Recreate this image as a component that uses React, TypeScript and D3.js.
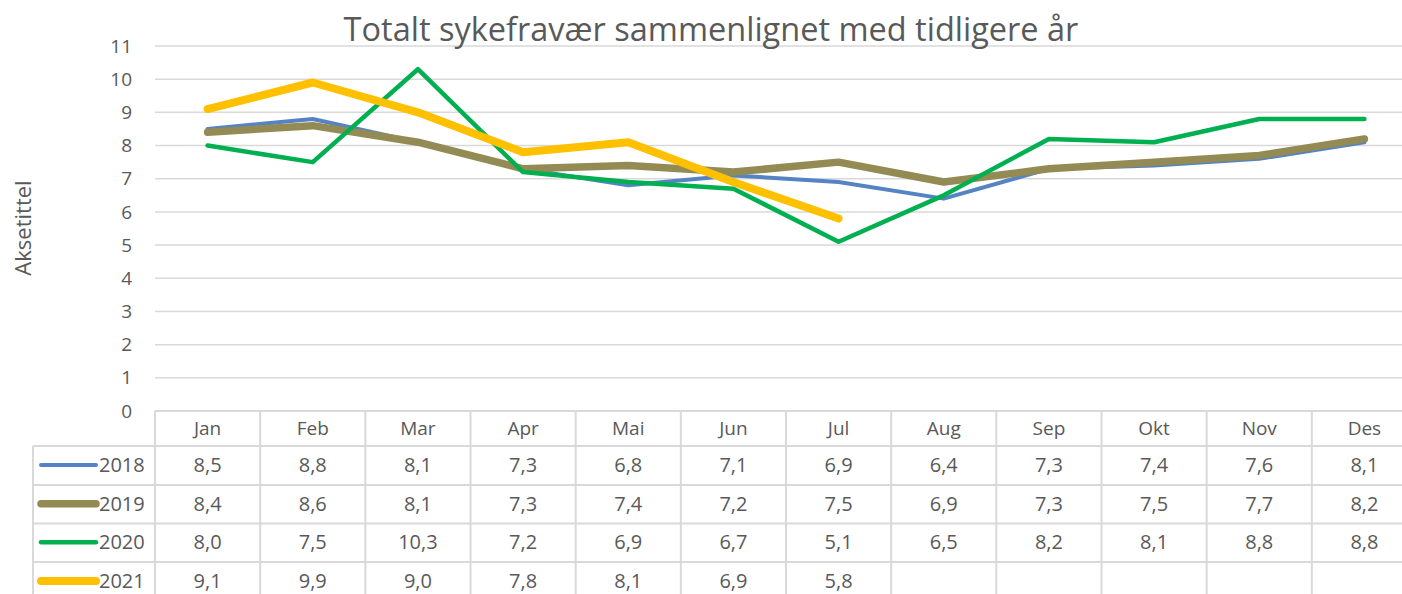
import { useRef, useEffect } from 'react';
import * as d3 from 'd3';

const months = ['Jan', 'Feb', 'Mar', 'Apr', 'Mai', 'Jun', 'Jul', 'Aug', 'Sep', 'Okt', 'Nov', 'Des'];
const years = ['2018', '2019', '2020', '2021'];
const values2018 = [8.5, 8.8, 8.1, 7.3, 6.8, 7.1, 6.9, 6.4, 7.3, 7.4, 7.6, 8.1];
const values2019 = [8.4, 8.6, 8.1, 7.3, 7.4, 7.2, 7.5, 6.9, 7.3, 7.5, 7.7, 8.2];
const values2020 = [8.0, 7.5, 10.3, 7.2, 6.9, 6.7, 5.1, 6.5, 8.2, 8.1, 8.8, 8.8];
const values2021 = [9.1, 9.9, 9.0, 7.8, 8.1, 6.9, 5.8];
const yTicks = [0, 1, 2, 3, 4, 5, 6, 7, 8, 9, 10, 11];

const colors = ['#5583c4', '#948a54', '#00b050', '#ffc000'];
const widths = [4, 7.5, 4.5, 8];

export default function App() {
  const svgRef = useRef<SVGSVGElement>(null);

  useEffect(() => {
    const svgWidth = 1402;
    const svgHeight = 594;
    const margin = { left: 155, top: 46, right: 1417, bottom: 411 };
    const font = "'Open Sans', sans-serif";
    const textColor = '#595959';
    const gridColor = '#d9d9d9';

    const svg = d3.select(svgRef.current).attr('width', svgWidth).attr('height', svgHeight);
    svg.selectAll('*').remove();

    const xBand = d3.scaleBand().domain(months).range([margin.left, margin.right]);
    const yScale = d3.scaleLinear().domain([0, 11]).range([margin.bottom, margin.top]);
    const xPoint = (i: number) => (xBand(months[i]) as number) + xBand.bandwidth() / 2;

    // gridlines
    svg
      .append('g')
      .selectAll('line')
      .data(yTicks.filter((d) => d > 0))
      .join('line')
      .attr('x1', margin.left)
      .attr('x2', margin.right)
      .attr('y1', (d) => yScale(d))
      .attr('y2', (d) => yScale(d))
      .attr('stroke', gridColor)
      .attr('stroke-width', 1.5);

    // y tick labels
    svg
      .append('g')
      .selectAll('text')
      .data(yTicks)
      .join('text')
      .attr('x', 132)
      .attr('y', (d) => yScale(d))
      .attr('dy', '0.35em')
      .attr('text-anchor', 'end')
      .attr('font-family', font)
      .attr('font-size', 19)
      .attr('fill', textColor)
      .text((d) => d);

    // axis title
    svg
      .append('text')
      .attr('transform', 'translate(31, 228) rotate(-90)')
      .attr('text-anchor', 'middle')
      .attr('font-family', font)
      .attr('font-size', 22)
      .attr('fill', textColor)
      .text('Aksetittel');

    // title
    svg
      .append('text')
      .attr('x', 711)
      .attr('y', 41)
      .attr('text-anchor', 'middle')
      .attr('font-family', font)
      .attr('font-size', 32.5)
      .attr('fill', textColor)
      .text('Totalt sykefravær sammenlignet med tidligere år');

    // lines
    const series = [values2018, values2019, values2020, values2021];
    const line = d3
      .line<number>()
      .x((_, i) => xPoint(i))
      .y((d) => yScale(d));
    svg
      .append('g')
      .selectAll('path')
      .data(series)
      .join('path')
      .attr('d', (d) => line(d))
      .attr('fill', 'none')
      .attr('stroke', (_, i) => colors[i])
      .attr('stroke-width', (_, i) => widths[i])
      .attr('stroke-linecap', 'round')
      .attr('stroke-linejoin', 'round');

    // data table
    const rowTop = [411, 446, 485, 523.5, 562];
    const rowBottom = [446, 485, 523.5, 562, 601];
    const legendLeft = 33;
    const table = svg.append('g');

    table
      .selectAll('line.h')
      .data([0, 1, 2, 3, 4, 5])
      .join('line')
      .attr('class', 'h')
      .attr('x1', (d) => (d === 0 ? margin.left : legendLeft))
      .attr('x2', margin.right)
      .attr('y1', (d) => (d < 5 ? rowTop[d] : rowBottom[4]))
      .attr('y2', (d) => (d < 5 ? rowTop[d] : rowBottom[4]))
      .attr('stroke', gridColor)
      .attr('stroke-width', 2);

    table
      .selectAll('line.v')
      .data(d3.range(months.length + 1))
      .join('line')
      .attr('class', 'v')
      .attr('x1', (d) => margin.left + d * xBand.bandwidth())
      .attr('x2', (d) => margin.left + d * xBand.bandwidth())
      .attr('y1', rowTop[0])
      .attr('y2', rowBottom[4])
      .attr('stroke', gridColor)
      .attr('stroke-width', 2);

    table
      .append('line')
      .attr('x1', legendLeft)
      .attr('x2', legendLeft)
      .attr('y1', rowTop[1])
      .attr('y2', rowBottom[4])
      .attr('stroke', gridColor)
      .attr('stroke-width', 2);

    // header
    table
      .selectAll('text.month')
      .data(months)
      .join('text')
      .attr('class', 'month')
      .attr('x', (_, i) => xPoint(i))
      .attr('y', (rowTop[0] + rowBottom[0]) / 2)
      .attr('dy', '0.35em')
      .attr('text-anchor', 'middle')
      .attr('font-family', font)
      .attr('font-size', 19)
      .attr('fill', textColor)
      .text((d) => d);

    const fmt = (v: number) => v.toFixed(1).replace('.', ',');

    series.forEach((vals, r) => {
      const cy = (rowTop[r + 1] + rowBottom[r + 1]) / 2 - 0.5;
      table
        .append('line')
        .attr('x1', 41)
        .attr('x2', 96)
        .attr('y1', cy)
        .attr('y2', cy)
        .attr('stroke', colors[r])
        .attr('stroke-width', widths[r])
        .attr('stroke-linecap', 'round');
      table
        .append('text')
        .attr('x', 99)
        .attr('y', cy)
        .attr('dy', '0.35em')
        .attr('font-family', font)
        .attr('font-size', 20)
        .attr('fill', textColor)
        .text(years[r]);
      table
        .append('g')
        .selectAll('text')
        .data(vals)
        .join('text')
        .attr('x', (_, i) => xPoint(i))
        .attr('y', cy)
        .attr('dy', '0.35em')
        .attr('text-anchor', 'middle')
        .attr('font-family', font)
        .attr('font-size', 20)
        .attr('fill', textColor)
        .text((d) => fmt(d));
    });
  }, []);

  return (
    <div style={{ position: 'absolute', left: 0, top: 0 }}>
      <svg ref={svgRef} style={{ display: 'block' }} />
    </div>
  );
}
